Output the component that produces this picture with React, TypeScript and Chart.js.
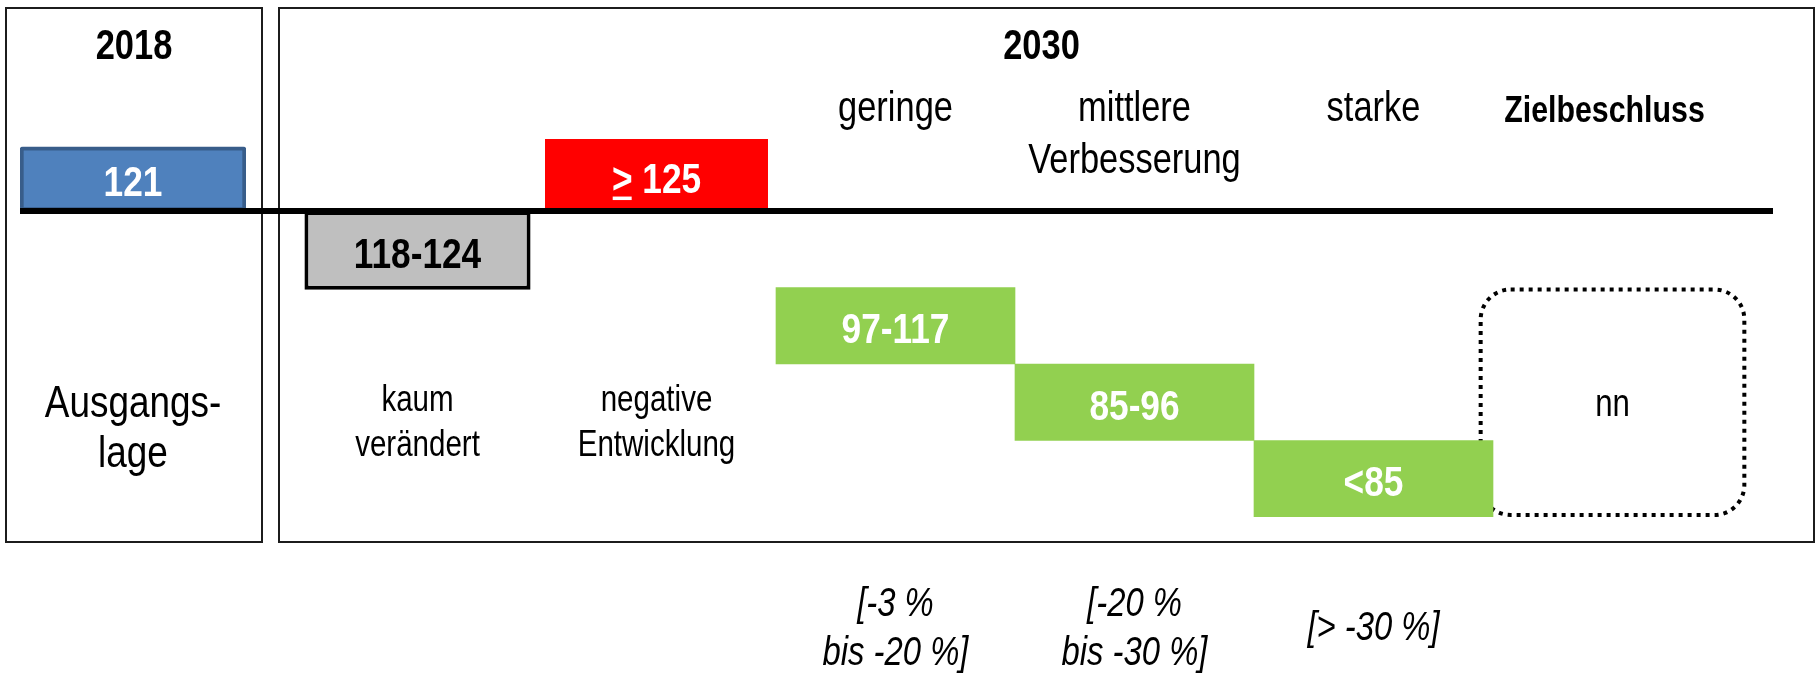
import React, { useEffect, useRef } from "react";
import { Chart, registerables } from "chart.js";

Chart.register(...registerables);

// ---------------- data ----------------
// 2018 panel
const baselineCategories = ["2018"];
const baselineValueLabels = ["121"];
const baselineLevelLow = [0];
const baselineLevelHigh = [0.84];
const baselineNoteLines = ["Ausgangs-", "lage"];

// 2030 panel
const targetTitle = "2030";
const scenarioCategories = [
  "kaum verändert",
  "negative Entwicklung",
  "geringe",
  "mittlere Verbesserung",
  "starke",
  "Zielbeschluss",
];
const scenarioNameLines = [
  ["kaum", "verändert"],
  ["negative", "Entwicklung"],
  ["geringe"],
  ["mittlere", "Verbesserung"],
  ["starke"],
  ["Zielbeschluss"],
];
const scenarioValueLabels = ["118-124", "≥ 125", "97-117", "85-96", "<85", "nn"];
const scenarioLevelLow = [-1.03, 0, -2, -3, -4, -4];
const scenarioLevelHigh = [0, 0.94, -1, -2, -3, -1];
const scenarioChangeLines = [
  [],
  [],
  ["[-3 %", "bis -20 %]"],
  ["[-20 %", "bis -30 %]"],
  ["[> -30 %]"],
  [],
];
const scenarioGroup = ["kaum", "negativ", "besser", "besser", "besser", "ziel"];

// ---------------- layout / style ----------------
const W = 1819;
const H = 674;
const FONT = '"Liberation Sans", Arial, Helvetica, sans-serif';
const NARROW = 0.82;
const FRAME = "#1c1c1c";
const Y_MIN = -4;
const Y_MAX = 2;
const PAD_TOP = 58;
const PAD_BOTTOM = 157;
const LEFT_PANEL = { x: 6, y: 8, w: 256, h: 534 };
const RIGHT_PANEL = { x: 279, y: 8, w: 1535, h: 534 };
const LINE_X0 = 20;
const LINE_X1 = 1773;

const groupStyle: Record<string, any> = {
  kaum: { bg: "#BFBFBF", border: "#000000", bw: 4, pct: 0.946, text: "#000000", weight: "bold", size: 43 },
  negativ: { bg: "#FF0000", border: "#FF0000", bw: 0, pct: 0.933, text: "#FFFFFF", weight: "bold", size: 43 },
  besser: { bg: "#92D050", border: "#92D050", bw: 0, pct: 1, text: "#FFFFFF", weight: "bold", size: 43 },
  ziel: { bg: "rgba(0,0,0,0)", border: "rgba(0,0,0,0)", bw: 0, pct: 1.12, text: "#000000", weight: "normal", size: 38 },
};
const groupOrder = ["kaum", "negativ", "besser", "ziel"];

function drawNarrow(
  ctx: CanvasRenderingContext2D,
  text: string,
  x: number,
  y: number,
  size: number,
  weight = "normal",
  italic = false,
  color = "#000"
) {
  ctx.save();
  ctx.translate(x, y);
  ctx.scale(NARROW, 1);
  ctx.font = `${italic ? "italic " : ""}${weight} ${size}px ${FONT}`;
  ctx.fillStyle = color;
  ctx.textAlign = "center";
  ctx.textBaseline = "alphabetic";
  ctx.fillText(text, 0, 0);
  ctx.restore();
}

function drawValueLabel(
  ctx: CanvasRenderingContext2D,
  text: string,
  x: number,
  baseline: number,
  size: number,
  weight: string,
  color: string
) {
  if (text.startsWith("≥")) {
    const shown = ">" + text.slice(1);
    ctx.save();
    ctx.translate(x, baseline);
    ctx.scale(NARROW, 1);
    ctx.font = `${weight} ${size}px ${FONT}`;
    ctx.fillStyle = color;
    ctx.textAlign = "left";
    ctx.textBaseline = "alphabetic";
    const w = ctx.measureText(shown).width;
    const w1 = ctx.measureText(">").width;
    ctx.fillText(shown, -w / 2, 0);
    ctx.fillRect(-w / 2 + 1, 4, w1 - 2, 3.5);
    ctx.restore();
  } else {
    drawNarrow(ctx, text, x, baseline, size, weight, false, color);
  }
}

function barBox(el: any) {
  const p = el.getProps(["x", "y", "base", "width"], true);
  const top = Math.min(p.y, p.base);
  const bottom = Math.max(p.y, p.base);
  return { cx: p.x, cy: (top + bottom) / 2, left: p.x - p.width / 2, right: p.x + p.width / 2, top, bottom };
}

const leftDecor = {
  id: "leftDecor",
  beforeDatasetsDraw(chart: any) {
    const ctx = chart.ctx as CanvasRenderingContext2D;
    ctx.save();
    ctx.strokeStyle = FRAME;
    ctx.lineWidth = 2;
    ctx.strokeRect(LEFT_PANEL.x, LEFT_PANEL.y, LEFT_PANEL.w, LEFT_PANEL.h);
    ctx.restore();
  },
  afterDatasetsDraw(chart: any) {
    const ctx = chart.ctx as CanvasRenderingContext2D;
    const xs = chart.scales.x;
    const ys = chart.scales.y;
    const cx = xs.getPixelForValue(0);
    // zero line (2018 level)
    const y0 = ys.getPixelForValue(0);
    ctx.save();
    ctx.fillStyle = "#000";
    ctx.fillRect(LINE_X0, y0 - 3, LINE_X1 - LINE_X0, 6);
    ctx.restore();
    // title
    drawNarrow(ctx, baselineCategories[0], LEFT_PANEL.x + LEFT_PANEL.w / 2, 59, 42, "bold");
    // value label
    const meta = chart.getDatasetMeta(0);
    meta.data.forEach((el: any, i: number) => {
      const b = barBox(el);
      drawValueLabel(ctx, baselineValueLabels[i], b.cx, y0 - (y0 - b.top) / 2 + 17.5, 43, "bold", "#FFFFFF");
    });
    // note
    baselineNoteLines.forEach((t, k) => drawNarrow(ctx, t, cx, 417 + k * 50, 45));
  },
};

const rightDecor = {
  id: "rightDecor",
  beforeDatasetsDraw(chart: any) {
    const ctx = chart.ctx as CanvasRenderingContext2D;
    ctx.save();
    ctx.strokeStyle = FRAME;
    ctx.lineWidth = 2;
    ctx.strokeRect(RIGHT_PANEL.x, RIGHT_PANEL.y, RIGHT_PANEL.w, RIGHT_PANEL.h);
    ctx.restore();
    // dotted outline of the open target (drawn below the other bars)
    chart.data.datasets.forEach((ds: any, d: number) => {
      if (groupOrder[d] !== "ziel") return;
      const meta = chart.getDatasetMeta(d);
      meta.data.forEach((el: any, i: number) => {
        if (ds.data[i] == null) return;
        const b = barBox(el);
        ctx.save();
        ctx.strokeStyle = "#000";
        ctx.lineWidth = 4;
        ctx.setLineDash([4, 5]);
        ctx.beginPath();
        (ctx as any).roundRect(b.left + 2, b.top + 2, b.right - b.left - 4, b.bottom - b.top - 4, 30);
        ctx.stroke();
        ctx.restore();
      });
    });
  },
  afterDatasetsDraw(chart: any) {
    const ctx = chart.ctx as CanvasRenderingContext2D;
    const xs = chart.scales.x;
    drawNarrow(ctx, targetTitle, RIGHT_PANEL.x + RIGHT_PANEL.w / 2 - 5, 59, 42, "bold");

    chart.data.datasets.forEach((ds: any, d: number) => {
      const meta = chart.getDatasetMeta(d);
      const g = groupOrder[d];
      const st = groupStyle[g];
      meta.data.forEach((el: any, i: number) => {
        if (ds.data[i] == null) return;
        const b = barBox(el);
        if (g === "ziel") {
          drawValueLabel(ctx, scenarioValueLabels[i], b.cx, b.cy + 14, st.size, st.weight, st.text);
        } else {
          drawValueLabel(ctx, scenarioValueLabels[i], b.cx, b.cy + 17.5, st.size, st.weight, st.text);
        }
      });
    });

    scenarioNameLines.forEach((lines, i) => {
      const x = xs.getPixelForValue(i);
      const above = scenarioLevelHigh[i] < 0 || scenarioGroup[i] === "ziel";
      if (scenarioGroup[i] === "ziel") {
        lines.forEach((t, k) => drawNarrow(ctx, t, x - 8, 122 + k * 52, 37, "bold"));
      } else if (above) {
        lines.forEach((t, k) => drawNarrow(ctx, t, x, 121 + k * 52, 42));
      } else {
        lines.forEach((t, k) => drawNarrow(ctx, t, x, 411 + k * 45, 36));
      }
    });

    scenarioChangeLines.forEach((lines, i) => {
      if (!lines.length) return;
      const x = xs.getPixelForValue(i);
      const lh = 49;
      const first = 628 - ((lines.length - 1) * lh) / 2 + 12;
      lines.forEach((t, k) => drawNarrow(ctx, t, x, first + k * lh, 40, "normal", true));
    });
  },
};

export default function App() {
  const leftRef = useRef<HTMLCanvasElement>(null);
  const rightRef = useRef<HTMLCanvasElement>(null);

  useEffect(() => {
    const right = new Chart(rightRef.current as HTMLCanvasElement, {
      type: "bar",
      data: {
        labels: scenarioCategories,
        datasets: groupOrder.map((g) => ({
          label: g,
          data: scenarioLevelLow.map((lo, i) => (scenarioGroup[i] === g ? [lo, scenarioLevelHigh[i]] : null)),
          backgroundColor: groupStyle[g].bg,
          borderColor: groupStyle[g].border,
          borderWidth: groupStyle[g].bw,
          barPercentage: groupStyle[g].pct,
          categoryPercentage: 1,
          borderSkipped: false,
          grouped: false,
        })) as any,
      },
      options: {
        responsive: false,
        animation: false,
        devicePixelRatio: 1,
        layout: { padding: { left: 298, right: W - 1732, top: PAD_TOP, bottom: PAD_BOTTOM } },
        scales: {
          x: { type: "category", display: false, offset: true },
          y: { type: "linear", display: false, min: Y_MIN, max: Y_MAX },
        },
        plugins: { legend: { display: false }, tooltip: { enabled: false } },
      } as any,
      plugins: [rightDecor],
    });

    const left = new Chart(leftRef.current as HTMLCanvasElement, {
      type: "bar",
      data: {
        labels: baselineCategories,
        datasets: [
          {
            label: "2018",
            data: baselineLevelLow.map((lo, i) => [lo, baselineLevelHigh[i]]),
            backgroundColor: "#4F81BD",
            borderColor: "#385D8A",
            borderWidth: 4,
            borderRadius: 3,
            borderSkipped: false,
            barPercentage: 1,
            categoryPercentage: 1,
          },
        ] as any,
      },
      options: {
        responsive: false,
        animation: false,
        devicePixelRatio: 1,
        layout: { padding: { left: 20, right: W - 246, top: PAD_TOP, bottom: PAD_BOTTOM } },
        scales: {
          x: { type: "category", display: false, offset: true },
          y: { type: "linear", display: false, min: Y_MIN, max: Y_MAX },
        },
        plugins: { legend: { display: false }, tooltip: { enabled: false } },
      } as any,
      plugins: [leftDecor],
    });

    return () => {
      left.destroy();
      right.destroy();
    };
  }, []);

  return (
    <div style={{ position: "fixed", left: 0, top: 0, width: W, height: H, background: "#ffffff" }}>
      <canvas ref={rightRef} width={W} height={H} style={{ position: "absolute", left: 0, top: 0 }} />
      <canvas ref={leftRef} width={W} height={H} style={{ position: "absolute", left: 0, top: 0 }} />
    </div>
  );
}
